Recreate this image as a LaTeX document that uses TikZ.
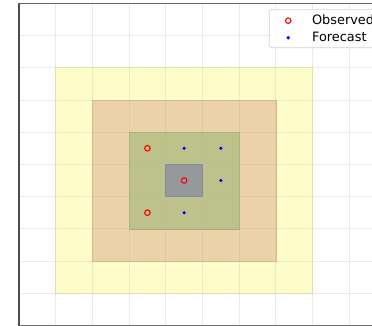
\documentclass[tikz,border=0pt]{standalone}
\usepackage{fontspec}
\setmainfont{DejaVu Sans}
\begin{document}
\begin{tikzpicture}[x=36.7pt,y=32.22pt,
  gridline/.style={draw=black!30,line width=0.8pt,opacity=0.25},
  obs/.style={circle,draw=red,line width=1.1pt,fill=none,minimum size=5.5pt,inner sep=0pt},
  fcst/.style={circle,fill=blue,draw=none,minimum size=3.6pt,inner sep=0pt},
  spine/.style={draw=black!70,line width=1.2pt}]
\definecolor{cyel}{RGB}{254,253,201}
\definecolor{cyeledge}{RGB}{245,240,178}
\definecolor{cora}{RGB}{235,210,169}
\definecolor{coraedge}{RGB}{218,186,140}
\definecolor{cgrn}{RGB}{188,194,138}
\definecolor{cgrnedge}{RGB}{164,178,118}
\definecolor{cgry}{RGB}{149,153,156}
\definecolor{cgryedge}{RGB}{118,124,160}
\useasboundingbox (-0.518,-0.0155) rectangle (9.619,10.102);
\fill[white] (-0.518,-0.0155) rectangle (9.619,10.102);
% regions
\filldraw[fill=cyel,draw=cyeledge,line width=0.6pt] (1,1) rectangle (8,8);
\filldraw[fill=cora,draw=coraedge,line width=0.6pt] (2,2) rectangle (7,7);
\filldraw[fill=cgrn,draw=cgrnedge,line width=0.6pt] (3,3) rectangle (6,6);
\filldraw[fill=cgry,draw=cgryedge,line width=0.8pt] (4,4) rectangle (5,5);
% grid
\foreach \i in {1,...,9} {\draw[gridline] (\i,0) -- (\i,10);}
\foreach \j in {1,...,9} {\draw[gridline] (0,\j) -- (9.7,\j);}
% spines
\draw[spine] (0,-0.1) -- (0,10);
\draw[spine,line width=0.9pt,draw=black!60] (0,10) -- (9.7,10);
\draw[spine,line width=0.9pt,draw=black!55] (0,0) -- (9.7,0);
% points
\node[obs] (o1) at (3.5,5.5) {};
\node[obs] (o2) at (4.5,4.5) {};
\node[obs] (o3) at (3.5,3.5) {};
\node[fcst] (f1) at (4.5,5.5) {};
\node[fcst] (f2) at (5.5,5.5) {};
\node[fcst] (f3) at (5.5,4.5) {};
\node[fcst] (f4) at (4.5,3.5) {};
% legend
\filldraw[fill=white,fill opacity=0.85,draw=black!18,line width=0.6pt,rounded corners=2.5pt]
  (6.82,9.81) rectangle (9.8,8.62);
\node[obs] (lo) at (7.337,9.46) {};
\node[fcst] (lf) at (7.337,8.93) {};
\node[anchor=west,inner sep=0pt,font=\fontsize{12.9}{14}\selectfont] (lot) at (7.98,9.48) {Observed};
\node[anchor=west,inner sep=0pt,font=\fontsize{12.9}{14}\selectfont] (lft) at (7.98,8.95) {Forecast};
\end{tikzpicture}
\end{document}
